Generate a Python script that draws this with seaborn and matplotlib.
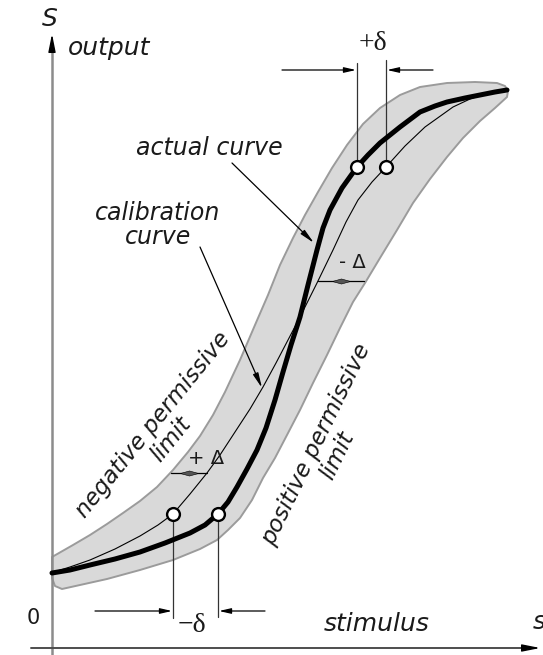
import matplotlib
matplotlib.use("Agg")
import matplotlib.pyplot as plt
import seaborn as sns

# Coordinates: stimulus along x, output S along y (origin at the axes corner)

# actual transfer function of the sensor
actual_x = [0, 18, 38, 63, 88, 113, 138, 153, 166, 176, 185, 195, 205, 214, 223, 231,
            239, 248, 256, 265, 271, 278, 290, 305, 316, 328, 348, 368, 383, 395,
            413, 428, 443, 455]
actual_y = [75, 78, 83, 89, 96, 105, 115, 123, 134, 146, 161, 179, 198, 220, 248, 276,
            303, 331, 363, 398, 420, 438, 460, 481, 493, 505, 521, 536, 542, 546,
            550, 553, 556, 558]

# ideal calibration curve
calib_x = [2, 18, 38, 63, 88, 106, 121, 138, 155, 168, 183, 198, 211, 224, 236, 248,
           265, 281, 294, 306, 320, 334, 353, 373, 401, 418, 430]
calib_y = [76, 81, 88, 99, 112, 123, 134, 154, 175, 193, 216, 239, 261, 285, 308, 331,
           365, 398, 426, 448, 466, 481, 502, 521, 541, 549, 553]

# negative permissive limit (upper/left edge of the tolerance band)
neg_limit_x = [0, 21, 38, 55, 71, 88, 105, 121, 136, 148, 161, 173, 188, 203, 216,
               228, 241, 253, 266, 280, 295, 311, 328, 348, 368, 395, 423, 445, 453, 456]
neg_limit_y = [91, 103, 113, 124, 135, 147, 161, 178, 196, 212, 233, 256, 288, 323, 353,
               383, 410, 433, 456, 480, 503, 524, 540, 553, 561, 565, 566, 565, 562, 557]

# positive permissive limit (lower/right edge), traced back to the start
pos_limit_x = [455, 443, 428, 411, 395, 378, 361, 345, 328, 313, 301, 288, 275, 261,
               248, 235, 223, 211, 200, 188, 176, 165, 148, 121, 88, 55, 28, 10, 3, 0]
pos_limit_y = [551, 540, 527, 510, 491, 469, 445, 418, 390, 365, 346, 320, 293, 265,
               238, 213, 190, 170, 148, 130, 118, 108, 99, 88, 78, 69, 63, 59, 62, 70]

# points compared on both curves
low_pts_x = [121, 166]
low_pts_y = [134, 134]
high_pts_x = [305, 334]
high_pts_y = [481, 481]

sns.set_style("white")
plt.rcParams["font.family"] = ["DejaVu Sans"]

fig = plt.figure(figsize=(5.43, 6.55), dpi=100)
ax = fig.add_axes([0, 0, 1, 1])
ax.set_xlim(-52, 491)
ax.set_ylim(-7, 648)
ax.axis("off")

# tolerance band
ax.fill(neg_limit_x + pos_limit_x, neg_limit_y + pos_limit_y,
        facecolor="#d9d9d9", edgecolor="#9b9b9b", lw=1.4,
        joinstyle="round", zorder=1)

# curves
sns.lineplot(x=calib_x, y=calib_y, sort=False, estimator=None,
             color="black", lw=0.8, ax=ax, zorder=3)
sns.lineplot(x=actual_x, y=actual_y, sort=False, estimator=None,
             color="black", lw=3.6, ax=ax, zorder=4,
             solid_capstyle="round", solid_joinstyle="round")

# axes with arrows
ax.plot([0, 0], [-7, 600], color="#8c8c8c", lw=1.8, zorder=2)
ax.annotate("", xy=(0, 617), xytext=(0, 596),
            arrowprops=dict(arrowstyle="-|>,head_length=0.9,head_width=0.18",
                            color="black", lw=1.0, mutation_scale=12))
ax.plot([-21, 480], [0, 0], color="#4d4d4d", lw=1.4, zorder=2)
ax.annotate("", xy=(491, 0), xytext=(470, 0),
            arrowprops=dict(arrowstyle="-|>,head_length=0.9,head_width=0.18",
                            color="black", lw=1.0, mutation_scale=12))

# delta markers: vertical guides from the compared points
guide = dict(color="#333333", lw=0.9, zorder=2)
ax.plot([low_pts_x[0]] * 2, [low_pts_y[0], 30], **guide)
ax.plot([low_pts_x[1]] * 2, [low_pts_y[1], 31], **guide)
ax.plot([high_pts_x[0]] * 2, [high_pts_y[0], 585], **guide)
ax.plot([high_pts_x[1]] * 2, [high_pts_y[1], 588], **guide)

head = dict(arrowstyle="-|>,head_length=0.7,head_width=0.16",
            color="black", lw=0.9, mutation_scale=10, shrinkA=0, shrinkB=0)
ax.annotate("", xy=(low_pts_x[0] - 1, 37), xytext=(43, 37), arrowprops=head)
ax.annotate("", xy=(low_pts_x[1] + 1, 37), xytext=(213, 37), arrowprops=head)
ax.annotate("", xy=(high_pts_x[0] - 1, 578), xytext=(230, 578), arrowprops=head)
ax.annotate("", xy=(high_pts_x[1] + 1, 578), xytext=(381, 578), arrowprops=head)

# compared points
sns.scatterplot(x=low_pts_x + high_pts_x, y=low_pts_y + high_pts_y, ax=ax,
                s=85, color="white", edgecolor="black", linewidth=1.7,
                zorder=6, legend=False)

# Delta (band half-width) indicators
lens = [(-1, 0), (0, 0.28), (1, 0), (0, -0.28), (-1, 0)]
for x0, x1, y in [(119, 155, 175), (266, 312, 367)]:
    ax.plot([x0, x1], [y, y], color="black", lw=0.9, zorder=5)
    ax.plot([(x0 + x1) / 2], [y], marker=lens, ms=13, color="#555555",
            mec="black", mew=0.4, zorder=5)

# leader lines
leader = dict(arrowstyle="-|>,head_length=0.8,head_width=0.15",
              color="black", lw=0.9, mutation_scale=11, shrinkA=0, shrinkB=0)
ax.annotate("", xy=(262, 405), xytext=(180, 485), arrowprops=leader, zorder=5)
ax.annotate("", xy=(210, 260), xytext=(148, 401), arrowprops=leader, zorder=5)

# labels
lab = dict(style="italic", color="#1a1a1a")
ax.text(-2, 629, "S", fontsize=18, ha="center", va="center", **lab)
ax.text(16, 593, "output", fontsize=18, ha="left", va="baseline", **lab)
ax.text(157, 500, "actual curve", fontsize=17, ha="center", va="center", **lab)
ax.text(106, 423, "calibration\ncurve", fontsize=17, ha="center", va="center",
        linespacing=1.05, **lab)
ax.text(325, 24, "stimulus", fontsize=18, ha="center", va="center", **lab)
ax.text(481, 26, "s", fontsize=18, ha="left", va="center", **lab)
ax.text(-19, 30, "0", fontsize=15, ha="center", va="center", color="#1a1a1a")

ax.text(110, 216, "negative permissive\nlimit", fontsize=16.5, rotation=51,
        rotation_mode="anchor", ha="center", va="center", multialignment="center",
        linespacing=1.0, **lab)
ax.text(275, 198, "positive permissive\nlimit", fontsize=16.5, rotation=64,
        rotation_mode="anchor", ha="center", va="center", multialignment="center",
        linespacing=1.0, **lab)

serif = dict(family=["Liberation Serif", "DejaVu Serif"], color="#1a1a1a")
ax.text(321, 605, "+δ", fontsize=20, ha="center", va="center", **serif)
ax.text(140, 23, "\u2212δ", fontsize=20, ha="center", va="center", **serif)

ax.text(154, 190, "+ Δ", fontsize=14, ha="center", va="center", color="#1a1a1a")
ax.text(300, 385, "- Δ", fontsize=14, ha="center", va="center", color="#1a1a1a")

fig.savefig("out.png", dpi=100)
